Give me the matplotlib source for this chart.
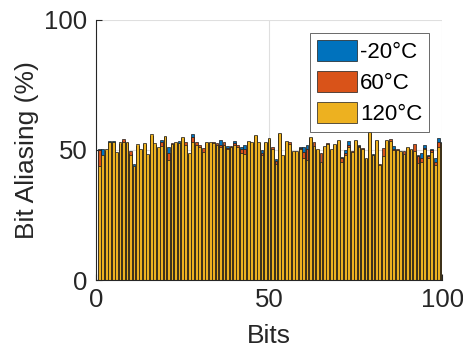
import numpy as np
import matplotlib
matplotlib.use('Agg')
import matplotlib.pyplot as plt

plt.rcParams['font.family'] = ['Liberation Sans', 'DejaVu Sans']

bits = np.arange(1, 101)

# bit aliasing (%) per bit
alias_m20 = [50.4, 50.4, 49.7, 53.4, 53.4, 48.9, 52.4, 53.5, 52.6, 48.5,
             44.6, 51.7, 49.8, 52.2, 48.1, 55.5, 52.1, 50.6, 54.0, 55.0,
             51.2, 51.8, 52.5, 53.5, 54.5, 51.6, 48.3, 56.1, 51.6, 50.6,
             49.0, 52.8, 52.6, 52.1, 51.5, 53.9, 51.6, 51.6, 50.8, 53.5,
             50.9, 51.2, 52.0, 53.0, 52.6, 55.4, 52.8, 50.0, 52.6, 54.1,
             50.0, 46.5, 56.1, 47.6, 53.1, 51.9, 49.2, 49.1, 51.2, 51.2,
             51.9, 54.7, 51.2, 50.0, 44.9, 51.2, 51.9, 50.0, 51.9, 53.5,
             47.2, 50.0, 53.5, 48.7, 53.5, 52.0, 50.0, 46.6, 56.4, 48.4,
             53.5, 43.8, 47.4, 53.5, 53.1, 51.6, 49.5, 49.2, 48.0, 50.9,
             50.0, 49.2, 48.1, 48.7, 51.9, 48.1, 50.4, 47.0, 54.5, 53.2]

alias_60 = [50.0, 47.0, 49.8, 52.5, 52.4, 48.8, 52.2, 54.2, 52.5, 49.6,
            43.0, 51.5, 49.9, 52.0, 48.0, 55.3, 52.0, 50.5, 53.0, 54.8,
            49.0, 52.6, 52.4, 52.0, 54.3, 53.0, 48.2, 54.9, 53.2, 51.9,
            50.6, 52.6, 52.5, 53.0, 52.6, 52.0, 53.0, 50.9, 51.5, 52.6,
            52.0, 50.3, 50.3, 53.0, 52.4, 55.2, 52.6, 48.7, 52.5, 54.0,
            51.2, 45.8, 56.0, 47.5, 53.0, 53.0, 49.0, 49.0, 50.6, 49.2,
            50.3, 54.5, 53.0, 49.9, 48.7, 51.0, 52.6, 49.8, 51.8, 53.3,
            46.8, 48.7, 51.9, 49.6, 53.3, 51.6, 50.9, 46.5, 56.2, 47.6,
            53.3, 44.6, 50.6, 53.3, 54.4, 50.4, 50.4, 49.0, 49.6, 50.8,
            49.9, 52.3, 47.5, 46.8, 50.6, 47.5, 49.9, 45.3, 53.0, 52.0]

alias_120 = [44.0, 48.0, 50.4, 53.2, 53.0, 49.4, 53.0, 53.0, 53.0, 48.1,
             43.8, 52.2, 50.4, 52.6, 48.6, 56.0, 52.6, 51.0, 51.6, 55.4,
             46.2, 52.3, 53.0, 52.6, 54.9, 52.0, 48.7, 53.2, 52.0, 51.0,
             49.4, 53.2, 53.0, 52.5, 52.0, 51.2, 52.0, 50.4, 51.2, 52.0,
             51.3, 49.0, 48.4, 53.5, 53.0, 55.8, 53.2, 48.1, 53.0, 54.5,
             50.4, 44.5, 56.5, 48.1, 53.5, 52.3, 49.6, 49.6, 50.2, 47.0,
             46.0, 55.1, 51.6, 50.4, 45.3, 51.6, 52.3, 50.4, 52.3, 53.9,
             45.5, 48.1, 51.0, 49.1, 53.9, 51.3, 50.4, 47.0, 56.8, 48.1,
             53.9, 44.2, 47.8, 53.9, 53.5, 49.9, 49.9, 49.6, 48.4, 51.3,
             50.4, 49.6, 44.9, 45.5, 50.2, 46.8, 49.4, 44.2, 51.3, 52.6]

labels = ['-20°C', '60°C', '120°C']
colors = ['#0072BD', '#D95319', '#EDB120']

fig = plt.figure(figsize=(4.63, 3.55), dpi=100)
ax = fig.add_axes([0.207, 0.211, 0.748, 0.733])

# drawn one over the other, like hold on in matlab
for vals, lab, col in zip([alias_m20, alias_60, alias_120], labels, colors):
    ax.bar(bits, vals, width=0.8, color=col, edgecolor='#1a1a1a',
           linewidth=0.5, label=lab, zorder=2)

ax.set_xlim(0, 100)
ax.set_ylim(0, 100)
ax.set_xticks([0, 50, 100])
ax.set_yticks([0, 50, 100])
ax.grid(True, color='#dfdfdf', linewidth=0.8, zorder=0)
ax.set_axisbelow(True)
for s in ['top', 'right']:
    ax.spines[s].set_visible(False)
for s in ['left', 'bottom']:
    ax.spines[s].set_color('#262626')
    ax.spines[s].set_linewidth(0.8)
ax.tick_params(direction='in', length=4, width=0.8, colors='#262626',
               labelsize=18.5, pad=6)

ax.set_xlabel('Bits', fontsize=19, color='#262626', labelpad=8)
ax.set_ylabel('Bit Aliasing (%)', fontsize=19, color='#262626', labelpad=4)

leg = ax.legend(loc='upper right', fontsize=16, frameon=True, fancybox=False,
                edgecolor='#262626', handlelength=1.8, handleheight=1.1,
                handletextpad=0.15, labelspacing=0.35, borderpad=0.3,
                borderaxespad=0.6)
leg.get_frame().set_linewidth(0.6)

fig.savefig('out.png', dpi=100)
